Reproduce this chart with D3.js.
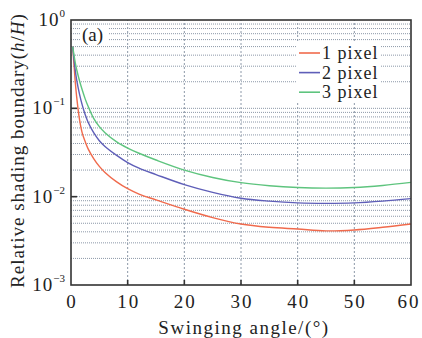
<!DOCTYPE html>
<html>
<head>
<meta charset="utf-8">
<script src="https://cdn.jsdelivr.net/npm/d3@7"></script>
<style>
  body { margin: 0; background: #fff; }
</style>
</head>
<body>
<div id="chart"></div>
<script>
// data
const angles = [0.3, 0.75, 1, 1.5, 2, 2.5, 3, 4, 5, 6, 8, 10, 12, 15, 20, 25, 30, 35, 40, 45, 50, 55, 60];
const pixel1 = [0.5, 0.2, 0.135, 0.075, 0.052, 0.042, 0.035, 0.027, 0.022, 0.0188, 0.0148, 0.0123, 0.0107, 0.0092, 0.0072, 0.0058, 0.0049, 0.0045, 0.0043, 0.0041, 0.0042, 0.0045, 0.0049];
const pixel2 = [0.5, 0.27, 0.21, 0.145, 0.108, 0.085, 0.07, 0.053, 0.043, 0.037, 0.0295, 0.0243, 0.021, 0.0178, 0.0137, 0.0112, 0.0096, 0.0089, 0.0085, 0.0084, 0.0085, 0.0089, 0.0095];
const pixel3 = [0.5, 0.33, 0.275, 0.205, 0.16, 0.128, 0.106, 0.077, 0.062, 0.053, 0.042, 0.0355, 0.031, 0.026, 0.02, 0.0165, 0.0144, 0.0133, 0.0127, 0.0125, 0.0127, 0.0134, 0.0145];
const seriesNames = ["1 pixel", "2 pixel", "3 pixel"];
const seriesColors = ["#f06a4c", "#5e5eb8", "#5ec47e"];
const xTicks = [0, 10, 20, 30, 40, 50, 60];
const yDecades = [-3, -2, -1, 0];

const W = 422, H = 338;
const margin = { left: 71, right: 11, top: 20, bottom: 53 };

const svg = d3.select("#chart").append("svg")
    .attr("width", W)
    .attr("height", H)
    .attr("font-family", "Liberation Serif, serif")
    .attr("fill", "#222");

const x = d3.scaleLinear().domain([0, 60]).range([margin.left, W - margin.right]);
const y = d3.scaleLog().domain([1e-3, 1]).range([H - margin.bottom, margin.top]);

// grid - horizontal at every log tick, vertical at x ticks
const minor = [];
for (let e = -3; e < 0; e++) for (let m = 1; m < 10; m++) minor.push(m * Math.pow(10, e));
svg.append("g").selectAll("line")
    .data(minor.filter(v => v > 1e-3))
    .enter().append("line")
    .attr("x1", x(0)).attr("x2", x(60))
    .attr("y1", d => y(d)).attr("y2", d => y(d))
    .attr("stroke", "#8c98a8")
    .attr("stroke-width", 1)
    .attr("stroke-dasharray", "1,1");

svg.append("g").selectAll("line")
    .data(xTicks.slice(1, -1))
    .enter().append("line")
    .attr("x1", d => x(d)).attr("x2", d => x(d))
    .attr("y1", y(1e-3)).attr("y2", y(1))
    .attr("stroke", "#8c98a8")
    .attr("stroke-width", 1)
    .attr("stroke-dasharray", "2,2");

// curves
const series = [pixel1, pixel2, pixel3];
const line = d3.line()
    .x((d, i) => x(angles[i]))
    .y(d => y(d))
    .curve(d3.curveCatmullRom.alpha(0.5));

series.forEach((s, k) => {
    svg.append("path")
        .datum(s)
        .attr("fill", "none")
        .attr("stroke", seriesColors[k])
        .attr("stroke-width", 1.4)
        .attr("d", line);
});

// frame
svg.append("rect")
    .attr("x", x(0)).attr("y", y(1))
    .attr("width", x(60) - x(0))
    .attr("height", y(1e-3) - y(1))
    .attr("fill", "none")
    .attr("stroke", "#333")
    .attr("stroke-width", 1.6);

// ticks (inward)
svg.append("g").selectAll("line")
    .data(xTicks.slice(1, -1))
    .enter().append("line")
    .attr("x1", d => x(d)).attr("x2", d => x(d))
    .attr("y1", y(1e-3)).attr("y2", y(1e-3) - 5)
    .attr("stroke", "#333").attr("stroke-width", 1.6);

svg.append("g").selectAll("line")
    .data(yDecades.slice(1, -1))
    .enter().append("line")
    .attr("x1", x(0)).attr("x2", x(0) + 6)
    .attr("y1", d => y(Math.pow(10, d))).attr("y2", d => y(Math.pow(10, d)))
    .attr("stroke", "#333").attr("stroke-width", 1.6);

// x tick labels (last one kept inside the window)
svg.append("g").selectAll("text")
    .data(xTicks)
    .enter().append("text")
    .attr("x", d => Math.min(x(d) + 1, W - 13))
    .attr("y", y(1e-3) + 23)
    .attr("text-anchor", "middle")
    .attr("font-size", 19)
    .attr("letter-spacing", 2)
    .text(d => d);

// y tick labels 10^n
const yl = svg.append("g").selectAll("text")
    .data(yDecades)
    .enter().append("text")
    .attr("x", x(0) - 6)
    .attr("y", d => y(Math.pow(10, d)) + 6)
    .attr("text-anchor", "end")
    .attr("font-size", 19);
yl.append("tspan").attr("letter-spacing", 1).text("10");
yl.append("tspan")
    .attr("dy", -9)
    .attr("font-size", 11)
    .text(d => d === 0 ? "0" : "\u2212" + (-d));

// axis titles
svg.append("text")
    .attr("x", x(30) + 3)
    .attr("y", H - 4)
    .attr("text-anchor", "middle")
    .attr("font-size", 19)
    .attr("letter-spacing", 1.5)
    .text("Swinging angle/(\u00b0)");

const yt = svg.append("text")
    .attr("transform", `translate(24,${(y(1) + y(1e-3)) / 2 - 2}) rotate(-90)`)
    .attr("text-anchor", "middle")
    .attr("font-size", 19)
    .attr("letter-spacing", 1);
yt.append("tspan").text("Relative shading boundary(");
yt.append("tspan").attr("font-style", "italic").text("h");
yt.append("tspan").text("/");
yt.append("tspan").attr("font-style", "italic").text("H");
yt.append("tspan").text(")");

// panel label
svg.append("rect")
    .attr("x", 80).attr("y", 26).attr("width", 28).attr("height", 18)
    .attr("fill", "#fff");
svg.append("text")
    .attr("x", 82).attr("y", 41)
    .attr("font-size", 19)
    .text("(a)");

// legend
const lg = svg.append("g").attr("transform", "translate(297,43)");
lg.append("rect").attr("width", 84).attr("height", 59).attr("fill", "#fff");
seriesNames.forEach((n, k) => {
    const ly = 10 + k * 19.6;
    lg.append("line")
        .attr("x1", 2).attr("x2", 23)
        .attr("y1", ly).attr("y2", ly)
        .attr("stroke", seriesColors[k]).attr("stroke-width", 1.6);
    lg.append("text")
        .attr("x", 25).attr("y", ly + 6)
        .attr("font-size", 18)
        .attr("letter-spacing", 1)
        .text(n);
});
</script>
</body>
</html>
